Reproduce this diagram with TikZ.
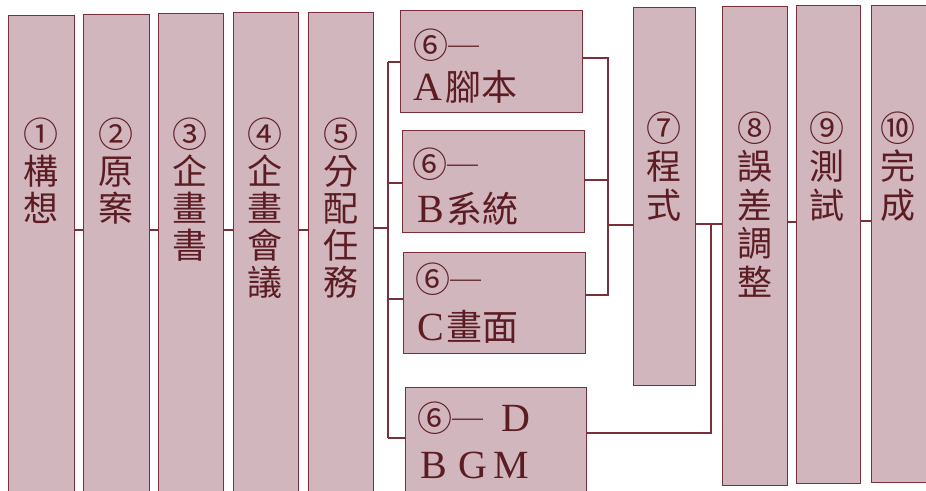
\documentclass[tikz,border=0pt]{standalone}
\usepackage{fontspec}
\setmainfont{Liberation Serif}
\newfontfamily\cjk{Noto Sans CJK TC}
\definecolor{boxfill}{RGB}{210,182,189}
\definecolor{boxline}{RGB}{122,48,58}
\definecolor{ink}{RGB}{92,28,36}
\tikzset{
  bar/.style={draw=boxline, fill=boxfill, line width=1.3pt, inner sep=0pt, anchor=north west},
  conn/.style={draw=boxline, line width=1.2pt},
  ch/.style={text=ink, font=\cjk\fontsize{35}{36}\selectfont, inner sep=0pt, anchor=base},
  row/.style={text=ink, font=\fontsize{40}{42}\selectfont, inner sep=0pt, anchor=base west},
}
\newcommand\vcolumn[5]{%
  \foreach \c [count=\i] in {#5} {\node[ch] (#1-\i) at ({#2},{#3+#4*(\i-1)}) {\c};}}
\newcommand\cjkbig{\cjk\fontsize{36}{37}\selectfont}
\newcommand\dashtext{{\fontsize{31}{32}\selectfont ─}}
\begin{document}
\begin{tikzpicture}[x=1pt,y=-1pt]
\useasboundingbox (0,0) rectangle (926,490);
\clip (0,0) rectangle (926,490);
\fill[white] (0,0) rectangle (926,490);
% tall bars
\node[bar, minimum width=66pt, minimum height=500pt] (b1) at (8,15) {};
\node[bar, minimum width=66pt, minimum height=500pt] (b2) at (83,14) {};
\node[bar, minimum width=65pt, minimum height=500pt] (b3) at (158,13) {};
\node[bar, minimum width=65pt, minimum height=500pt] (b4) at (233,12) {};
\node[bar, minimum width=65pt, minimum height=500pt] (b5) at (308,12) {};
% branch boxes
\node[bar, minimum width=182pt, minimum height=102pt] (bA) at (400,10) {};
\node[bar, minimum width=182pt, minimum height=102pt] (bB) at (402,130) {};
\node[bar, minimum width=182pt, minimum height=101pt] (bC) at (403,252) {};
\node[bar, minimum width=181pt, minimum height=120pt] (bD) at (405,387) {};
% right bars
\node[bar, minimum width=62pt, minimum height=378pt] (b7) at (633,7) {};
\node[bar, minimum width=65pt, minimum height=479pt] (b8) at (722,6) {};
\node[bar, minimum width=64pt, minimum height=478pt] (b9) at (796,5) {};
\node[bar, minimum width=80pt, minimum height=477pt] (b10) at (871,5) {};
% helper coordinates
\coordinate (busL) at (388,0);
\coordinate (busR) at (608,0);
\coordinate (jD) at (711,0);
\coordinate (y230) at (0,230);
\coordinate (y228) at (0,228);
\coordinate (y62) at (0,62);
\coordinate (y183) at (0,183);
\coordinate (y299) at (0,299);
\coordinate (y438) at (0,438);
\coordinate (y58) at (0,58);
\coordinate (y180) at (0,180);
\coordinate (y295) at (0,295);
\coordinate (y225) at (0,225);
\coordinate (y224) at (0,224);
\coordinate (y433) at (0,433);
\coordinate (y222) at (0,222);
\coordinate (y221) at (0,221);
% connectors
\draw[conn] (b1.east |- y230) -- (b2.west |- y230);
\draw[conn] (b2.east |- y230) -- (b3.west |- y230);
\draw[conn] (b3.east |- y230) -- (b4.west |- y230);
\draw[conn] (b4.east |- y230) -- (b5.west |- y230);
\draw[conn] (b5.east |- y228) -- (busL |- y228);
\draw[conn] (busL |- y62) -- (busL |- y438);
\draw[conn] (busL |- y62) -- (bA.west |- y62);
\draw[conn] (busL |- y183) -- (bB.west |- y183);
\draw[conn] (busL |- y299) -- (bC.west |- y299);
\draw[conn] (busL |- y438) -- (bD.west |- y438);
\draw[conn] (bA.east |- y58) -- (busR |- y58) -- (busR |- y295) -- (bC.east |- y295);
\draw[conn] (bB.east |- y180) -- (busR |- y180);
\draw[conn] (busR |- y225) -- (b7.west |- y225);
\draw[conn] (b7.east |- y224) -- (b8.west |- y224);
\draw[conn] (bD.east |- y433) -- (jD |- y433) -- (jD |- y224);
\draw[conn] (b8.east |- y222) -- (b9.west |- y222);
\draw[conn] (b9.east |- y221) -- (b10.west |- y221);
% vertical texts
\vcolumn{t1}{41}{147}{37}{①,構,想}
\vcolumn{t2}{116}{147}{37}{②,原,案}
\vcolumn{t3}{189.5}{147}{37}{③,企,畫,書}
\vcolumn{t4}{265}{147}{37}{④,企,畫,會,議}
\vcolumn{t5}{340.5}{147}{37}{⑤,分,配,任,務}
\vcolumn{t7}{664}{141}{38.5}{⑦,程,式}
\vcolumn{t8}{754.5}{141}{38.5}{⑧,誤,差,調,整}
\vcolumn{t9}{827}{141}{38.5}{⑨,測,試}
\vcolumn{t10}{898}{141}{38.5}{⑩,完,成}
% branch texts
\node[ch, anchor=base west] (tA1) at (413,58) {⑥\dashtext};
\node[row] (tA2) at (413,100) {A\hspace{3pt}\cjkbig 腳本};
\node[ch, anchor=base west] (tB1) at (412,177) {⑥\dashtext};
\node[row] (tB2) at (417,222) {B\hspace{3pt}\cjkbig 系統};
\node[ch, anchor=base west] (tC1) at (415,292) {⑥\dashtext};
\node[row] (tC2) at (417,340) {C\hspace{3pt}\cjkbig 畫面};
\node[ch, anchor=base west] (tD1) at (417,431) {⑥\dashtext\hspace{18pt}{\rmfamily\fontsize{40}{42}\selectfont D}};
\node[row] (tD2) at (420,478) {B\hspace{12pt}G\hspace{6pt}M};
\end{tikzpicture}
\end{document}
